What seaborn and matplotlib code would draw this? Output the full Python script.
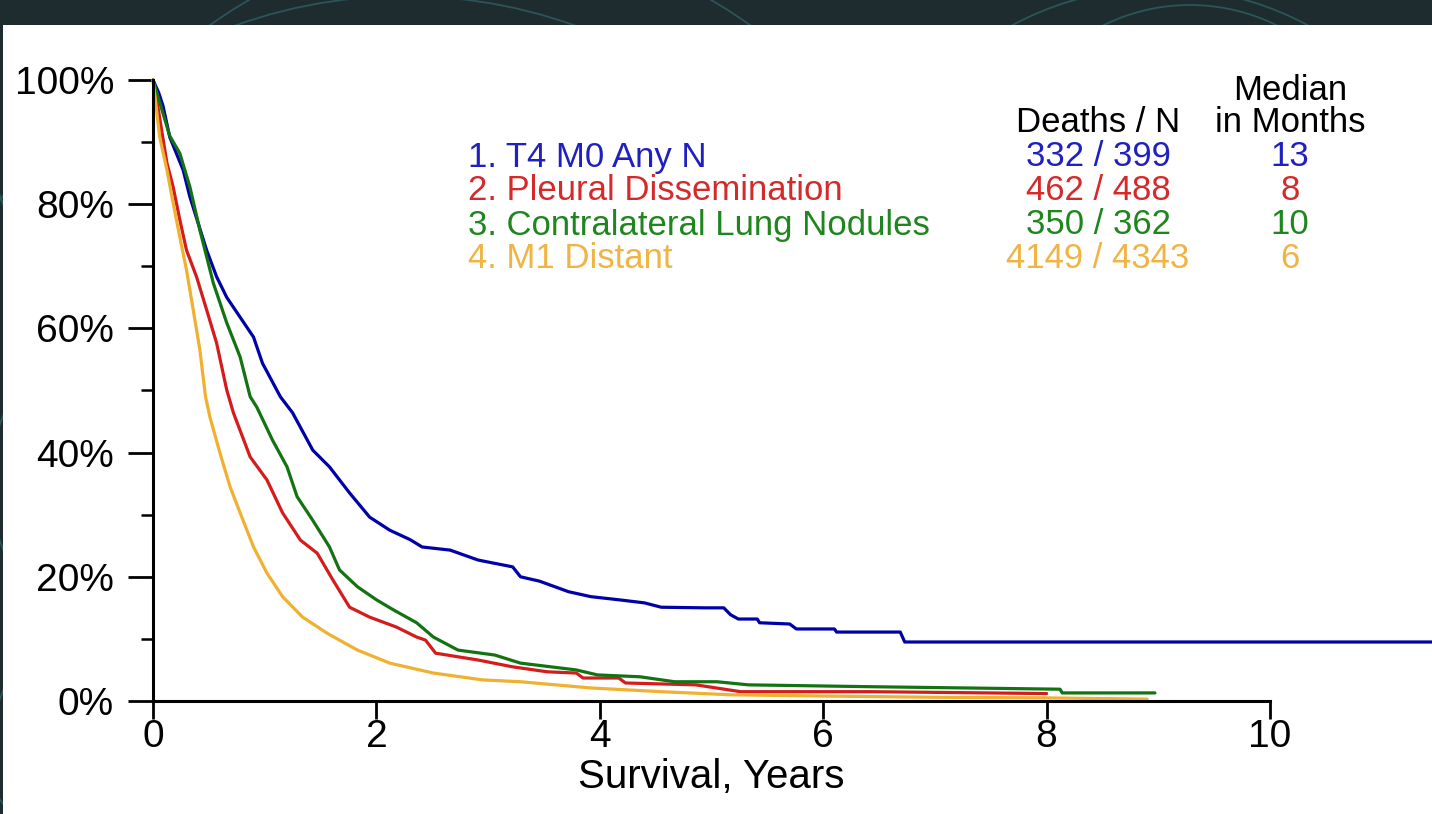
import matplotlib
matplotlib.use("Agg")
import matplotlib.pyplot as plt
import matplotlib.patches as mpatches
import seaborn as sns
import pandas as pd

# ---------------- data ----------------
groups = ["1. T4 M0 Any N", "2. Pleural Dissemination",
          "3. Contralateral Lung Nodules", "4. M1 Distant"]
deaths_n = ["332 / 399", "462 / 488", "350 / 362", "4149 / 4343"]
median_months = ["13", "8", "10", "6"]

t4_years = [0, 0.05, 0.09, 0.15, 0.27, 0.33, 0.48, 0.57, 0.66, 0.78, 0.90, 0.98,
            1.14, 1.25, 1.43, 1.58, 1.76, 1.94, 2.12, 2.30, 2.41, 2.66, 2.91, 3.05,
            3.22, 3.29, 3.46, 3.72, 3.92, 4.17, 4.40, 4.55, 4.95, 5.11, 5.17, 5.24,
            5.41, 5.43, 5.70, 5.76, 6.10, 6.12, 6.69, 6.73, 11.5]
t4_surv = [100, 98, 95.8, 90.8, 85.5, 81.2, 72.6, 68.3, 65, 61.8, 58.6, 54.4,
           49, 46.4, 40.4, 37.7, 33.5, 29.6, 27.5, 26.0, 24.8, 24.3, 22.7, 22.2,
           21.6, 20.0, 19.3, 17.6, 16.8, 16.3, 15.8, 15.1, 15.0, 15.0, 13.9, 13.2,
           13.2, 12.6, 12.4, 11.6, 11.6, 11.1, 11.1, 9.5, 9.5]

pleural_years = [0, 0.05, 0.09, 0.125, 0.18, 0.24, 0.30, 0.39, 0.48, 0.57, 0.66,
                 0.72, 0.87, 1.02, 1.16, 1.32, 1.47, 1.61, 1.76, 1.94, 2.18, 2.36,
                 2.44, 2.53, 2.91, 3.22, 3.53, 3.79, 3.85, 4.17, 4.23, 4.86, 5.26,
                 6.43, 8.0]
pleural_surv = [100, 95, 90.5, 86.6, 82.8, 77.5, 72.6, 68.3, 63, 57.6, 50.1,
                46.4, 39.3, 35.6, 30.3, 25.9, 23.8, 19.5, 15.1, 13.5, 11.9, 10.3,
                9.8, 7.7, 6.6, 5.5, 4.7, 4.5, 3.7, 3.7, 2.9, 2.6, 1.5,
                1.5, 1.2]

contra_years = [0, 0.05, 0.10, 0.15, 0.24, 0.33, 0.42, 0.54, 0.66, 0.78, 0.87,
                0.93, 1.07, 1.20, 1.29, 1.43, 1.58, 1.67, 1.83, 2.00, 2.15, 2.36,
                2.51, 2.73, 3.06, 3.29, 3.79, 3.98, 4.36, 4.67, 5.05, 5.33, 6.43,
                8.12, 8.14, 8.97]
contra_surv = [100, 97, 94, 91, 88.2, 82.8, 75.8, 67.3, 60.9, 55.4, 49,
               47.3, 42, 37.7, 32.9, 29.1, 24.8, 21.1, 18.4, 16.3, 14.7, 12.6,
               10.3, 8.2, 7.4, 6.1, 5.0, 4.2, 3.9, 3.1, 3.1, 2.6, 2.3,
               1.9, 1.3, 1.3]

m1_years = [0, 0.06, 0.125, 0.18, 0.24, 0.30, 0.36, 0.42, 0.47, 0.51, 0.60, 0.69,
            0.78, 0.90, 1.02, 1.16, 1.34, 1.56, 1.83, 2.12, 2.51, 2.95, 3.29, 3.92,
            4.55, 5.17, 6.0, 7.0, 8.0, 8.9]
m1_surv = [100, 90.8, 85.5, 80.2, 74.7, 69.4, 63, 56.5, 49, 45.7, 39.9, 34.5,
           30.3, 24.8, 20.6, 16.8, 13.5, 10.9, 8.2, 6.1, 4.5, 3.4, 3.1, 2.1,
           1.5, 1.0, 0.8, 0.6, 0.5, 0.3]

x_ticks = [0, 2, 4, 6, 8, 10]
y_ticks = [0, 20, 40, 60, 80, 100]
y_tick_labels = ["0%", "20%", "40%", "60%", "80%", "100%"]
y_minor = [10, 30, 50, 70, 90]

line_colors = ["#0000a8", "#d41c1c", "#137313", "#f0b030"]
text_colors = ["#2020c0", "#d42a2a", "#1f861f", "#f0b444"]

# ---------------- build long table ----------------
frames = []
for g, xs, ys in zip(groups,
                     [t4_years, pleural_years, contra_years, m1_years],
                     [t4_surv, pleural_surv, contra_surv, m1_surv]):
    frames.append(pd.DataFrame({"year": xs, "surv": ys, "group": g}))
df = pd.concat(frames, ignore_index=True)

# ---------------- figure ----------------
sns.set_theme(style="ticks")
plt.rcParams["font.family"] = ["Liberation Sans", "DejaVu Sans"]

W, H = 1432, 814
fig = plt.figure(figsize=(W / 100, H / 100), dpi=100)
fig.patch.set_facecolor("#1f2c2f")

# decorative arcs in the dark frame
for cx, cy, r in [(480, 400, 462), (405, 500, 504), (1160, 300, 312),
                  (1190, 200, 195), (-300, 310, 321), (-200, 620, 215)]:
    c = mpatches.Circle((cx / 100, (H - cy) / 100), r / 100, fill=False,
                        edgecolor="#2a5559", lw=1.3,
                        transform=fig.dpi_scale_trans, zorder=-3)
    fig.add_artist(c)

# white panel
panel = mpatches.Rectangle((3 / W, 0), 1, (H - 25) / H, transform=fig.transFigure,
                           facecolor="white", edgecolor="none", zorder=-2)
fig.add_artist(panel)

x0px, x10px = 153, 1270
y0px, y100px = 701, 80
xmax = (W - x0px) / ((x10px - x0px) / 10)
ax = fig.add_axes([x0px / W, (H - y0px) / H, (W - x0px) / W, (y0px - y100px) / H])
ax.set_facecolor("none")

sns.lineplot(data=df, x="year", y="surv", hue="group", hue_order=groups,
             palette=line_colors, sort=False, estimator=None, linewidth=2.3,
             legend=False, ax=ax, clip_on=False)

ax.set_xlim(0, xmax)
ax.set_ylim(0, 100)
ax.set_xticks(x_ticks)
ax.set_xticklabels([str(v) for v in x_ticks])
ax.set_yticks(y_ticks)
ax.set_yticklabels(y_tick_labels)
ax.set_yticks(y_minor, minor=True)

for s in ["top", "right"]:
    ax.spines[s].set_visible(False)
ax.spines["bottom"].set_bounds(0, 10)
ax.spines["left"].set_bounds(0, 100)
for s in ["bottom", "left"]:
    ax.spines[s].set_linewidth(2.2)
    ax.spines[s].set_color("black")

ax.tick_params(axis="y", which="major", length=18, width=2.0, pad=10,
               labelsize=28, colors="black")
ax.tick_params(axis="y", which="minor", length=9, width=1.8, colors="black")
ax.tick_params(axis="x", which="major", length=13, width=2.0, pad=0,
               labelsize=28, colors="black")

ax.set_xlabel("Survival, Years", fontsize=29, color="black")
ax.set_ylabel("")
ax.xaxis.set_label_coords(5 / xmax, -0.092)
ax.xaxis.label.set_va("top")

# ---------------- legend table ----------------
def fx(px):
    return px / W


def fy(py):
    return 1 - py / H


fs = 25
row_y = [157, 191, 225, 259]
fig.text(fx(1098), fy(122), "Deaths / N", ha="center", va="center", fontsize=fs,
         color="black")
fig.text(fx(1290), fy(90), "Median", ha="center", va="center", fontsize=fs,
         color="black")
fig.text(fx(1290), fy(122), "in Months", ha="center", va="center", fontsize=fs,
         color="black")
for g, dn, md, ry, tc in zip(groups, deaths_n, median_months, row_y, text_colors):
    fig.text(fx(468), fy(ry), g, ha="left", va="center", fontsize=fs, color=tc)
    fig.text(fx(1098), fy(ry), dn, ha="center", va="center", fontsize=fs, color=tc)
    fig.text(fx(1290), fy(ry), md, ha="center", va="center", fontsize=fs, color=tc)

fig.savefig("out.png", dpi=100, facecolor=fig.get_facecolor())
